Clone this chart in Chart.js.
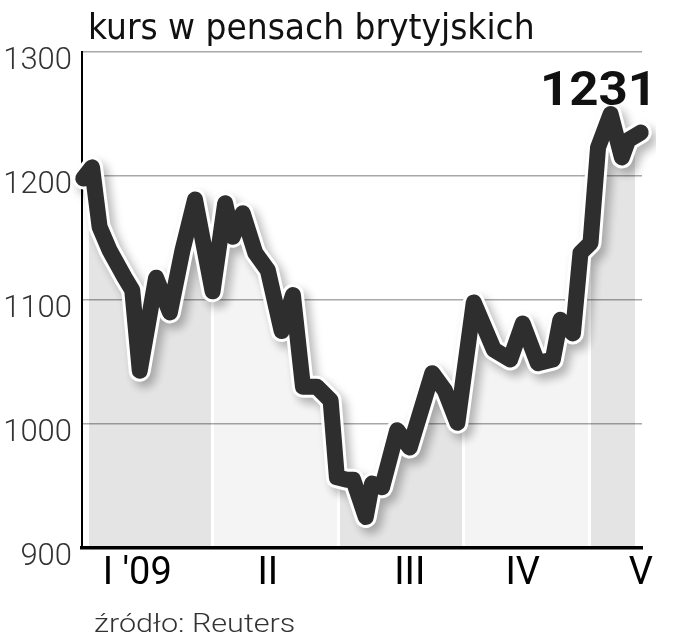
<!DOCTYPE html>
<html>
<head>
<meta charset="utf-8">
<script src="https://cdn.jsdelivr.net/npm/chart.js@4.4.1/dist/chart.umd.min.js"></script>
<style>
  html, body { margin: 0; padding: 0; background: #fff; }
  #wrap { position: relative; width: 681px; height: 640px; overflow: hidden; }
  #chart { position: absolute; left: 0; top: 0; }
  .txt { position: absolute; white-space: nowrap; line-height: 1; transform-origin: 0 0; }
  #title { left: 88px; top: 6px; font: 36px "Liberation Sans Narrow", "DejaVu Sans Condensed", Roboto, sans-serif; color: #111; }
  #source { left: 94px; top: 608px; font: 300 26px Roboto, "Liberation Sans", sans-serif; color: #333; }
  #last { left: 540px; top: 60px; font: bold 48px Roboto, "Liberation Sans", sans-serif; color: #111; }
</style>
</head>
<body>
<div id="wrap">
  <canvas id="chart" width="681" height="640"></canvas>
  <div id="title" class="txt">kurs w pensach brytyjskich</div>
  <div id="last" class="txt">1231</div>
  <div id="source" class="txt">źródło: Reuters</div>
</div>
<script>
// x w miesiącach od 1 stycznia 2009 (0 = początek I, 1 = początek II ...)
const xValues = [-0.03, 0.04, 0.10, 0.18, 0.30, 0.36, 0.42, 0.55, 0.66, 0.76, 0.86,
  1.00, 1.10, 1.16, 1.24, 1.34, 1.44, 1.55, 1.64, 1.72, 1.83, 1.94,
  1.99, 2.07, 2.12, 2.22, 2.27, 2.35, 2.47, 2.57, 2.75, 2.85, 2.95,
  3.08, 3.24, 3.37, 3.47, 3.59, 3.71, 3.77, 3.87, 3.93,
  4.01, 4.07, 4.17, 4.26, 4.31, 4.41];
const prices = [1198, 1207, 1159, 1140, 1118, 1108, 1043, 1118, 1090, 1140, 1181,
  1107, 1178, 1151, 1170, 1138, 1124, 1075, 1104, 1030, 1030, 1019,
  957, 955, 955, 925, 952, 949, 995, 981, 1041, 1027, 1001,
  1098, 1060, 1052, 1081, 1049, 1052, 1084, 1073, 1138,
  1146, 1223, 1250, 1215, 1229, 1235];

const monthLabels = ["I '09", "II", "III", "IV", "V"];
const monthTickPos = [0.40, 1.44, 2.57, 3.47, 4.41];
const monthBands = [0, 1, 2, 3, 4, 4.38];
const yTicks = [900, 1000, 1100, 1200, 1300];

const points = xValues.map((x, i) => ({ x: x, y: prices[i] }));

// pasy miesięcy pod linią
function bandFill(context) {
  const chart = context.chart;
  const area = chart.chartArea;
  const xs = chart.scales.x;
  if (!area || !xs) return "rgba(0,0,0,0.08)";
  const g = chart.ctx.createLinearGradient(area.left, 0, area.right, 0);
  const w = area.right - area.left;
  const pos = (px) => Math.min(1, Math.max(0, (px - area.left) / w));
  g.addColorStop(0, "rgba(0,0,0,0)");
  for (let i = 0; i < monthBands.length - 1; i++) {
    const a = pos(xs.getPixelForValue(monthBands[i]) + 1.5);
    const b = pos(xs.getPixelForValue(monthBands[i + 1]) - 1.5);
    const c = i % 2 === 0 ? "rgba(0,0,0,0.105)" : "rgba(0,0,0,0.045)";
    g.addColorStop(a, "rgba(0,0,0,0)");
    g.addColorStop(a, c);
    g.addColorStop(b, c);
    g.addColorStop(b, "rgba(0,0,0,0)");
  }
  g.addColorStop(1, "rgba(0,0,0,0)");
  return g;
}

// miękki cień pod białą obwódką
const shadowPlugin = {
  id: "haloShadow",
  beforeDatasetDraw(chart, args) {
    if (args.index !== 0) return;
    const ctx = chart.ctx;
    ctx.save();
    ctx.shadowColor = "rgba(0,0,0,0.28)";
    ctx.shadowBlur = 10;
    ctx.shadowOffsetX = 5;
    ctx.shadowOffsetY = 6;
  },
  afterDatasetDraw(chart, args) {
    if (args.index !== 0) return;
    chart.ctx.restore();
  }
};

new Chart(document.getElementById("chart"), {
  type: "line",
  data: {
    datasets: [
      {
        // biała obwódka + wypełnienie
        data: points,
        order: 2,
        borderColor: "#ffffff",
        borderWidth: 22,
        backgroundColor: bandFill,
        fill: "start",
        pointRadius: 0,
        tension: 0,
        borderCapStyle: "round",
        borderJoinStyle: "round",
        clip: 14
      },
      {
        data: points,
        order: 1,
        borderColor: "#2e2e2e",
        borderWidth: 16,
        fill: false,
        pointRadius: 0,
        tension: 0,
        borderCapStyle: "round",
        borderJoinStyle: "round",
        clip: 14
      }
    ]
  },
  options: {
    responsive: false,
    animation: false,
    layout: { padding: { top: 52, right: 39, bottom: 0, left: 0 } },
    plugins: {
      legend: { display: false },
      tooltip: { enabled: false },
      filler: { drawTime: "beforeDatasetsDraw" }
    },
    scales: {
      x: {
        type: "linear",
        min: -0.04,
        max: 4.42,
        grid: { display: false, drawTicks: false },
        border: { display: true, color: "#000", width: 3.5 },
        afterFit(scale) { scale.height = 92; },
        afterBuildTicks(scale) { scale.ticks = monthTickPos.map(v => ({ value: v })); },
        ticks: {
          autoSkip: false,
          maxRotation: 0,
          padding: 4,
          color: "#000",
          font: { family: "Roboto, 'Liberation Sans', sans-serif", size: 38 },
          callback: (value, index) => monthLabels[index]
        }
      },
      y: {
        min: 900,
        max: 1300,
        afterFit(scale) { scale.width = 82; },
        afterBuildTicks(scale) { scale.ticks = yTicks.map(v => ({ value: v })); },
        grid: {
          drawTicks: false,
          color: (c) => (c.tick && c.tick.value === 900 ? "rgba(0,0,0,0)" : "#a8a8a8"),
          lineWidth: 1.5
        },
        border: { display: true, color: "#000", width: 2 },
        ticks: {
          padding: 10,
          labelOffset: 9,
          color: "#333",
          font: { family: "Roboto, 'Liberation Sans', sans-serif", size: 31, weight: "300" },
          callback: (value) => String(value)
        }
      }
    }
  },
  plugins: [shadowPlugin]
});

// tytuł dopasowany do szerokości z oryginału
const titleEl = document.getElementById("title");
titleEl.style.transform = "scaleX(" + (447 / titleEl.offsetWidth) + ")";
const srcEl = document.getElementById("source");
srcEl.style.transform = "scaleX(" + (201 / srcEl.offsetWidth) + ")";
const lastEl = document.getElementById("last");
lastEl.style.transform = "scaleX(" + (117 / lastEl.offsetWidth) + ")";
</script>
</body>
</html>
